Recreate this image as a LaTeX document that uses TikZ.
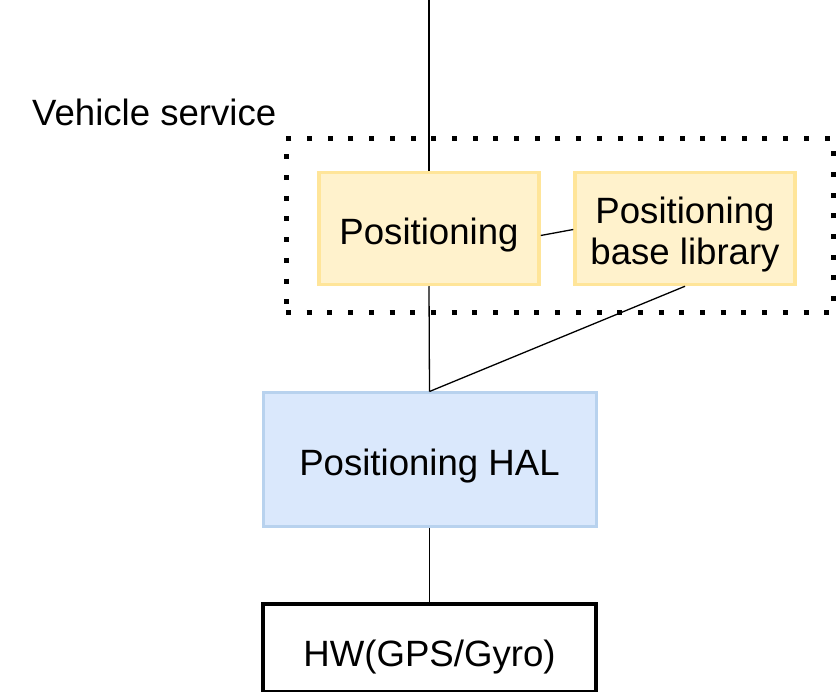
\documentclass[tikz,border=0pt]{standalone}
\usepackage{fontspec}
\setmainfont{Liberation Sans}
\newcommand{\lowertext}[2]{\raisebox{-#1}[\height][\depth]{#2}}
\begin{document}
\begin{tikzpicture}[x=1pt,y=-1pt,
  every node/.style={font=\fontsize{36.6}{41}\selectfont, inner sep=0pt, align=center},
  ybox/.style={draw=yellowline, fill=yellowfill, line width=3.5pt, minimum width=220pt, minimum height=112pt},
  bbox/.style={draw=blueline, fill=bluefill, line width=3pt, minimum width=333pt, minimum height=133pt},
  hwbox/.style={draw=black, line width=4pt, minimum width=333pt, minimum height=88pt},
  conn/.style={draw=black, line width=1.3pt}]
\definecolor{yellowfill}{HTML}{FFF2CC}
\definecolor{yellowline}{HTML}{FFE599}
\definecolor{bluefill}{HTML}{DAE8FC}
\definecolor{blueline}{HTML}{B8D2EE}
\useasboundingbox (0,0) rectangle (838,692);
\node[draw=black, line width=5pt, dash pattern=on 5pt off 15.7pt, minimum width=547pt, minimum height=174pt] (vs) at (559.5,226) {};
\node[anchor=west] (vslabel) at (32,112) {Vehicle service};
\node[ybox] (pos) at (429,228.5) {\lowertext{7pt}{Positioning}};
\node[ybox] (lib) at (685,228.5) {\lowertext{7pt}{\begin{tabular}{@{}c@{}}Positioning\\base library\end{tabular}}};
\node[bbox] (hal) at (429.5,459.5) {\lowertext{7pt}{Positioning HAL}};
\node[hwbox] (hw) at (429.5,648) {\lowertext{9pt}{HW(GPS/Gyro)}};
\coordinate (top) at (429,0);
\draw[conn] (top) -- (pos.north);
\draw[conn] ([yshift=-7pt]pos.east) -- ([yshift=-1pt]lib.west);
\draw[conn] (pos.south) -- (hal.north);
\draw[conn] (lib.south) -- (hal.north);
\draw[conn] (hal.south) -- (hw.north);
\end{tikzpicture}
\end{document}
